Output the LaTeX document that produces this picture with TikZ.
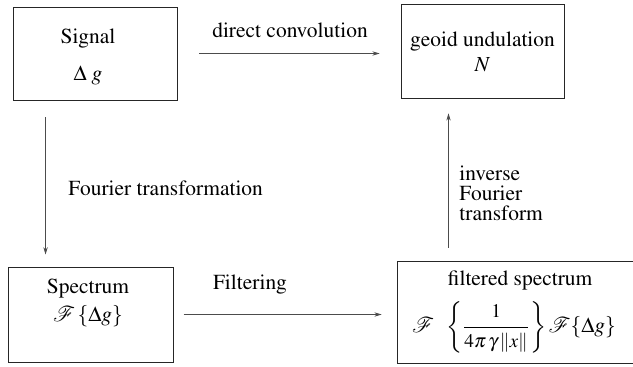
\documentclass[tikz,border=0pt]{standalone}
\usepackage[T1]{fontenc}
\usepackage{mathptmx}
\usetikzlibrary{arrows.meta}
\newcommand{\fracpart}[1]{\mbox{\fontsize{10.6}{12}\selectfont$#1$}}

\begin{document}
\begin{tikzpicture}
                \tikzset{x=0.55pt, y=-0.55pt, >={Stealth[length=4pt,width=2.4pt]}}
                \tikzstyle{box}=[rectangle, draw=black!85, line width=0.5pt, minimum height=51.2pt]
                \tikzstyle{lbl}=[font=\fontsize{11.8}{14}\selectfont]
                \tikzstyle{link}=[->, draw=black!70, line width=0.45pt]

                \useasboundingbox (0,0) rectangle (633,366);

                \draw (95.0, 53.5)   node[box, minimum width=90.2pt]                        (signal)   {};
                \draw (482.5, 51.0)  node[box, minimum width=89.7pt, minimum height=51.7pt] (geoid)    {};
                \draw (90.5, 314.5)  node[box, minimum width=90.8pt, minimum height=52.3pt] (spectrum) {};
                \draw (516.0, 312.0) node[box, minimum width=130.9pt, minimum height=56.1pt] (filtered) {};

                \draw (88.0, 57.0)   node[lbl, align=center] (tsignal)   {Signal\\[6pt]$\Delta\; g$};
                \draw (482.5, 52.0)  node[lbl, align=center] (tgeoid)    {geoid undulation\\[0pt]$N$};
                \draw (88.0, 303.0)  node[lbl, align=center] (tspectrum) {Spectrum\\[1pt]$\mathcal{F}\,\{\Delta g\}$};
                \draw (520.0, 281.0) node[lbl, inner sep=0pt] (tfilt1)   {filtered spectrum};
                \draw (514.0, 327.0) node[lbl, inner sep=0pt] (tfilt2)   {$\displaystyle\mathcal{F}\;\;\left\{\frac{\fracpart{1}}{\fracpart{4\pi\,\gamma\,\|x\|}}\right\}\mathcal{F}\{\Delta g\}$};

                \draw (290.0, 30.0)  node[lbl]                   (lconv)  {direct convolution};
                \draw (62.0, 188.0)  node[lbl, anchor=west]      (lfour)  {Fourier transformation};
                \draw (453.0, 193.0) node[lbl, anchor=west, align=left, font=\fontsize{11.8}{11}\selectfont] (linv) {inverse\\Fourier\\transform};
                \draw (250.0, 285.0) node[lbl]                   (lfilt)  {Filtering};

                \draw [link, shorten <=12.1pt, shorten >=11.5pt] (signal.east) -- (signal.east -| geoid.west);
                \draw [link, shorten <=9.3pt, shorten >=6.6pt]   ([xshift=18.15pt]signal.south west) -- ([xshift=18.15pt]signal.south west |- spectrum.north);
                \draw [link, shorten <=5.5pt, shorten >=8.2pt]   (spectrum.east) -- (spectrum.east -| filtered.west);
                \draw [link, shorten <=7.1pt, shorten >=8.2pt]   ([xshift=26.4pt]geoid.south west |- filtered.north) -- ([xshift=26.4pt]geoid.south west);
            \end{tikzpicture}
\end{document}
